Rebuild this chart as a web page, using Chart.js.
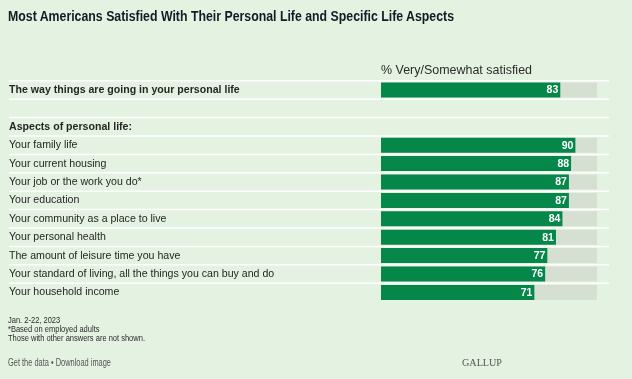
<!DOCTYPE html>
<html><head><meta charset="utf-8">
<script src="https://cdn.jsdelivr.net/npm/chart.js@4.4.0/dist/chart.umd.min.js"></script>
<style>
html,body{margin:0;padding:0;background:#e4f2e1;}
#wrap{position:relative;width:632px;height:379px;overflow:hidden;background:#e4f2e1;}
canvas{position:absolute;left:0;top:0;}
.t{position:absolute;white-space:nowrap;transform-origin:0 0;}
</style></head><body>
<div id="wrap">
<canvas id="c" width="632" height="379"></canvas>
<div class="t fit" data-w="446" style="left:8px;top:8px;font:bold 15px/15px 'Liberation Sans',sans-serif;color:#141b26;">Most Americans Satisfied With Their Personal Life and Specific Life Aspects</div>
<div class="t fit" data-w="151" style="left:381px;top:64px;font:12px/12px 'Liberation Sans',sans-serif;color:#2b2b2b;">% Very/Somewhat satisfied</div>
<div class="t fit" data-w="137" style="left:8px;top:315px;font:9.5px/9px 'Liberation Sans',sans-serif;color:#2b2b2b;">Jan. 2-22, 2023<br>*Based on employed adults<br>Those with other answers are not shown.</div>
<div class="t fit" data-w="103" style="left:8px;top:358px;font:10px/10px 'Liberation Sans',sans-serif;color:#555;">Get the data • Download image</div>
<div class="t fit" data-w="40" style="left:462px;top:357px;font:11px/11px 'Liberation Serif',serif;color:#555;">GALLUP</div>
</div>
<script>
const categories = [
  "The way things are going in your personal life",
  "",
  "Aspects of personal life:",
  "Your family life",
  "Your current housing",
  "Your job or the work you do*",
  "Your education",
  "Your community as a place to live",
  "Your personal health",
  "The amount of leisure time you have",
  "Your standard of living, all the things you can buy and do",
  "Your household income"
];
const satisfied = [83, null, null, 90, 88, 87, 87, 84, 81, 77, 76, 71];
const headerRows = [0, 2];
const scaleMax = 100;
const track = satisfied.map(v => v == null ? null : scaleMax);

document.querySelectorAll('.fit').forEach(el => {
  const w = el.getBoundingClientRect().width;
  const k = (+el.dataset.w) / w;
  el.style.transform = 'scaleX(' + k + ')';
});

const LABEL_FONT = "'Liberation Sans', Arial, sans-serif";

const separators = {
  id: 'separators',
  beforeDatasetsDraw(chart) {
    const y = chart.scales.y, ctx = chart.ctx;
    const step = y.getPixelForValue(1) - y.getPixelForValue(0);
    ctx.save();
    ctx.strokeStyle = '#ffffff';
    ctx.lineWidth = 1.5;
    for (let i = 0; i < categories.length; i++) {
      const py = y.getPixelForValue(i) - step / 2;
      ctx.beginPath();
      ctx.moveTo(9, py);
      ctx.lineTo(609, py);
      ctx.stroke();
    }
    ctx.restore();
  }
};

const valueLabels = {
  id: 'valueLabels',
  afterDatasetsDraw(chart) {
    const ctx = chart.ctx;
    const meta = chart.getDatasetMeta(0);
    ctx.save();
    ctx.fillStyle = '#ffffff';
    ctx.font = "bold 10.5px " + LABEL_FONT;
    ctx.textAlign = 'right';
    ctx.textBaseline = 'middle';
    meta.data.forEach((bar, i) => {
      const v = satisfied[i];
      if (v == null) return;
      ctx.fillText(String(v), bar.x - 2, bar.y + 0.5);
    });
    ctx.restore();
  }
};

new Chart(document.getElementById('c'), {
  type: 'bar',
  data: {
    labels: categories,
    datasets: [
      { data: satisfied, backgroundColor: '#05874a', grouped: false, barPercentage: 0.815, categoryPercentage: 1 },
      { data: track, backgroundColor: '#d5e0d2', grouped: false, barPercentage: 0.815, categoryPercentage: 1 }
    ]
  },
  options: {
    indexAxis: 'y',
    responsive: false,
    animation: false,
    devicePixelRatio: 1,
    layout: { padding: { left: 9, right: 35, top: 80.8, bottom: 77.4 } },
    plugins: { legend: { display: false }, tooltip: { enabled: false }, title: { display: false } },
    scales: {
      x: { display: false, min: 0, max: scaleMax },
      y: {
        type: 'category',
        grid: { display: false },
        border: { display: false },
        ticks: {
          autoSkip: false,
          crossAlign: 'far',
          padding: 0,
          color: '#262626',
          font: (c) => ({ family: LABEL_FONT, size: 10.6, weight: headerRows.includes(c.index) ? 'bold' : 'normal' })
        },
        afterFit(scale) { scale.width = 372; }
      }
    }
  },
  plugins: [separators, valueLabels]
});
</script>
</body></html>
